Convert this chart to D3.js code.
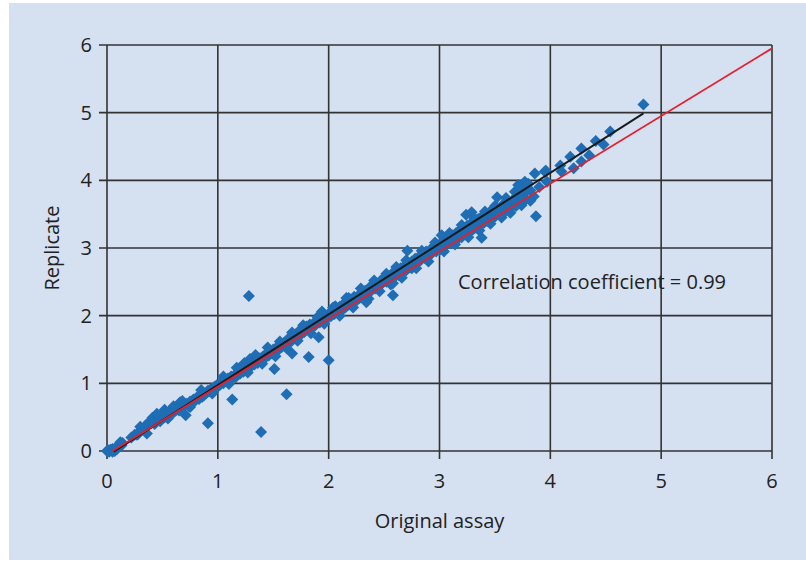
<!DOCTYPE html>
<html>
<head>
<meta charset="utf-8">
<script src="https://cdn.jsdelivr.net/npm/d3@7"></script>
<style>
  body { margin: 0; background: #ffffff; }
  svg { display: block; font-family: "Open Sans", "Noto Sans", sans-serif; }
  .tick-label { font-size: 20px; fill: #222; }
  .axis-title { font-size: 20px; fill: #222; }
</style>
</head>
<body>
<div id="chart-container"></div>
<script>
const CHART_CONTAINER_ID = "chart-container";

// tick values on both axes
const xTicks = [0, 1, 2, 3, 4, 5, 6];
const yTicks = [0, 1, 2, 3, 4, 5, 6];

// [original assay, replicate]
const bandPoints = [
  [0, 0], [0.01, 0.01], [0.02, 0], [0.03, 0.02], [0.04, 0.01], [0.05, 0.03], [0.06, 0.02],
  [0.08, 0.05], [0.1, 0.07], [0.12, 0.1], [0.13, 0.08], [0.14, 0.12], [0.02, -0.01],
  [0.05, -0.01], [0.07, 0], [0.09, 0.03], [0.12, 0.13],
  [0.22, 0.2], [0.25, 0.24], [0.27, 0.24], [0.28, 0.25], [0.3, 0.3], [0.33, 0.33],
  [0.35, 0.38], [0.36, 0.26], [0.38, 0.43], [0.4, 0.42], [0.41, 0.49], [0.43, 0.4],
  [0.45, 0.45], [0.46, 0.5], [0.48, 0.44], [0.5, 0.49], [0.5, 0.55],
  [0.52, 0.5], [0.52, 0.61], [0.54, 0.53], [0.55, 0.48], [0.57, 0.56], [0.58, 0.61],
  [0.6, 0.57], [0.62, 0.6], [0.63, 0.65], [0.65, 0.6], [0.66, 0.72], [0.68, 0.65],
  [0.7, 0.68], [0.71, 0.53], [0.72, 0.7], [0.74, 0.66], [0.75, 0.73], [0.77, 0.71],
  [0.78, 0.76], [0.8, 0.75], [0.81, 0.79], [0.83, 0.77], [0.84, 0.82], [0.86, 0.8],
  [0.87, 0.85], [0.88, 0.83], [0.9, 0.86], [0.91, 0.89], [0.93, 0.88], [0.94, 0.92],
  [0.95, 0.9], [0.97, 0.95], [0.98, 0.93], [0.99, 0.97], [1.0, 0.95],
  [1.02, 0.98], [1.03, 1.02], [1.05, 1.0], [1.06, 1.04], [1.08, 1.03], [1.09, 1.07],
  [1.1, 1.05], [1.12, 1.1], [1.13, 1.08], [1.15, 1.12], [1.16, 1.09], [1.18, 1.16],
  [1.19, 1.22], [1.2, 1.14], [1.22, 1.2], [1.23, 1.17], [1.25, 1.23], [1.26, 1.2],
  [1.28, 1.29], [1.29, 1.36], [1.3, 1.25], [1.32, 1.3], [1.33, 1.28], [1.35, 1.34],
  [1.36, 1.3], [1.38, 1.37], [1.4, 1.34], [1.41, 1.4], [1.43, 1.38], [1.44, 1.44],
  [1.46, 1.41], [1.47, 1.47], [1.49, 1.44], [1.5, 1.5], [1.52, 1.47], [1.53, 1.53],
  [1.55, 1.5], [1.57, 1.57], [1.58, 1.54], [1.6, 1.6], [1.61, 1.56], [1.63, 1.65],
  [1.65, 1.6], [1.66, 1.67], [1.68, 1.65], [1.7, 1.72], [1.71, 1.68], [1.73, 1.77],
  [1.75, 1.72], [1.76, 1.8], [1.78, 1.76], [1.8, 1.84], [1.82, 1.79], [1.83, 1.87],
  [1.85, 1.83], [1.87, 1.9], [1.88, 1.86], [1.9, 1.93], [1.92, 1.9], [1.93, 1.97],
  [1.94, 2.06], [1.95, 1.93], [1.97, 2.0], [1.98, 1.96], [2.0, 2.03],
  [2.02, 1.99], [2.03, 2.06], [2.05, 2.02], [2.06, 2.14], [2.07, 2.1], [2.08, 2.06],
  [2.1, 2.13], [2.12, 2.08], [2.13, 2.17], [2.15, 2.12], [2.17, 2.2], [2.18, 2.26],
  [2.18, 2.16], [2.2, 2.24], [2.22, 2.19], [2.23, 2.28], [2.25, 2.22], [2.27, 2.3],
  [2.28, 2.26], [2.3, 2.34], [2.32, 2.29], [2.33, 2.37], [2.34, 2.2], [2.35, 2.33],
  [2.37, 2.42], [2.38, 2.36], [2.4, 2.45], [2.42, 2.4], [2.43, 2.48], [2.45, 2.43],
  [2.47, 2.52], [2.48, 2.47], [2.5, 2.55], [2.52, 2.5], [2.53, 2.58], [2.55, 2.52],
  [2.57, 2.62], [2.6, 2.58], [2.62, 2.66], [2.63, 2.6], [2.65, 2.7], [2.67, 2.64],
  [2.68, 2.73], [2.7, 2.67], [2.72, 2.77], [2.73, 2.71], [2.75, 2.8], [2.75, 2.7],
  [2.77, 2.74], [2.78, 2.84], [2.8, 2.79], [2.82, 2.88], [2.83, 2.82], [2.85, 2.91],
  [2.87, 2.85], [2.88, 2.95], [2.9, 2.88], [2.92, 2.98], [2.93, 2.92], [2.95, 3.01],
  [2.97, 2.95], [2.98, 3.04], [3.0, 2.97],
  [3.02, 3.08], [3.02, 3.19], [3.03, 3.0], [3.05, 3.12], [3.06, 3.04], [3.08, 3.15],
  [3.1, 3.07], [3.12, 3.19], [3.13, 3.1], [3.15, 3.22], [3.17, 3.14], [3.18, 3.26],
  [3.2, 3.16], [3.22, 3.29], [3.23, 3.2], [3.24, 3.49], [3.25, 3.33], [3.27, 3.24],
  [3.28, 3.36], [3.29, 3.53], [3.3, 3.27], [3.32, 3.4], [3.33, 3.3], [3.35, 3.43],
  [3.37, 3.35], [3.38, 3.46], [3.4, 3.37], [3.42, 3.5], [3.43, 3.4], [3.45, 3.53],
  [3.47, 3.44], [3.48, 3.56], [3.5, 3.46], [3.52, 3.6], [3.55, 3.5], [3.57, 3.64],
  [3.6, 3.55], [3.62, 3.68], [3.65, 3.6], [3.67, 3.72], [3.68, 3.83], [3.7, 3.78],
  [3.72, 3.88], [3.73, 3.68], [3.74, 3.63], [3.75, 3.92], [3.76, 3.8], [3.77, 3.98],
  [3.78, 3.72], [3.79, 3.88], [3.8, 3.95], [3.82, 3.85], [3.85, 3.76], [3.86, 4.1],
  [3.9, 3.9], [3.95, 4.13], [3.96, 4.14], [3.97, 3.98],
  [4.09, 4.22], [4.1, 4.13], [4.18, 4.35], [4.21, 4.18], [4.28, 4.28], [4.28, 4.47],
  [4.35, 4.37], [4.41, 4.58], [4.48, 4.53], [4.54, 4.72], [4.84, 5.12]
];

// points on the upper and lower fringe of the band
const bandEdgePoints = [
  [0.3, 0.36], [0.45, 0.55], [0.6, 0.66], [0.68, 0.74], [0.75, 0.65], [0.85, 0.9],
  [0.95, 0.85], [1.05, 1.1], [1.1, 0.99], [1.17, 1.23], [1.24, 1.3], [1.27, 1.16],
  [1.34, 1.42], [1.4, 1.29], [1.45, 1.53], [1.52, 1.4], [1.56, 1.62], [1.62, 1.52],
  [1.67, 1.75], [1.72, 1.63], [1.77, 1.86], [1.84, 1.74], [1.9, 1.98], [1.96, 1.88],
  [2.04, 2.12], [2.1, 2.0], [2.16, 2.26], [2.22, 2.12], [2.29, 2.4], [2.36, 2.25],
  [2.41, 2.52], [2.46, 2.36], [2.52, 2.62], [2.56, 2.46], [2.61, 2.72], [2.66, 2.56],
  [2.7, 2.82], [2.79, 2.7], [2.84, 2.96], [2.9, 2.8], [2.96, 3.08], [3.04, 2.95],
  [3.09, 3.22], [3.14, 3.05], [3.2, 3.34], [3.26, 3.16], [3.31, 3.45], [3.36, 3.26],
  [3.41, 3.54], [3.46, 3.36], [3.5, 3.62], [3.56, 3.45], [3.6, 3.74], [3.64, 3.52],
  [3.69, 3.62], [3.71, 3.93], [3.74, 3.85], [3.82, 3.7]
];

// scattered points away from the main band
const outlierPoints = [
  [0.91, 0.41], [1.13, 0.76], [1.39, 0.28], [1.28, 2.29], [1.51, 1.21],
  [1.62, 0.84], [1.67, 1.44], [1.82, 1.39], [1.91, 1.68], [2.0, 1.34],
  [2.58, 2.3], [2.58, 2.48], [2.71, 2.96], [3.38, 3.15], [3.52, 3.75],
  [3.87, 3.47]
];

// regression line and reference line end points
const fitLine = [[0.06, -0.01], [4.84, 4.99]];
const identityLine = [[0.05, 0], [6, 5.95]];

const correlationText = "Correlation coefficient = 0.99";

function drawChart() {
    const size = { width: 806, height: 562 };
    const panel = { x: 9, y: 3, width: 797, height: 557 };
    const plot = { left: 107, right: 772, top: 45, bottom: 451 };

    const svg = d3.select("#" + CHART_CONTAINER_ID)
        .append("svg")
        .attr("width", size.width)
        .attr("height", size.height);

    svg.append("rect")
        .attr("x", panel.x)
        .attr("y", panel.y)
        .attr("width", panel.width)
        .attr("height", panel.height)
        .attr("fill", "#d5e0f1");

    const x = d3.scaleLinear().domain([0, 6]).range([plot.left, plot.right]);
    const y = d3.scaleLinear().domain([0, 6]).range([plot.bottom, plot.top]);

    drawGrid(svg, x, y, plot);
    drawPoints(svg, x, y, bandPoints.concat(bandEdgePoints, outlierPoints));
    drawLine(svg, x, y, fitLine, "#1a1a1a", 2);
    drawLine(svg, x, y, identityLine, "#e5202e", 1.8);
    drawLabels(svg, x, y, plot);
}

function drawGrid(svg, x, y, plot) {
    const grid = svg.append("g").attr("stroke", "#333").attr("stroke-width", 1.6);

    grid.selectAll(".hgrid")
        .data(yTicks)
        .enter()
        .append("line")
        .attr("x1", plot.left - 8)
        .attr("x2", plot.right)
        .attr("y1", d => y(d))
        .attr("y2", d => y(d));

    grid.selectAll(".vgrid")
        .data(xTicks)
        .enter()
        .append("line")
        .attr("x1", d => x(d))
        .attr("x2", d => x(d))
        .attr("y1", plot.top)
        .attr("y2", plot.bottom + 8);
}

function drawPoints(svg, x, y, points) {
    const diamond = d3.symbol().type(d3.symbolSquare).size(72);
    svg.append("g")
        .selectAll("path")
        .data(points)
        .enter()
        .append("path")
        .attr("d", diamond)
        .attr("transform", d => `translate(${x(d[0])},${y(d[1])}) rotate(45)`)
        .attr("fill", "#1f6db4");
}

function drawLine(svg, x, y, ends, color, width) {
    const line = d3.line().x(d => x(d[0])).y(d => y(d[1]));
    svg.append("path")
        .datum(ends)
        .attr("d", line)
        .attr("fill", "none")
        .attr("stroke", color)
        .attr("stroke-width", width);
}

function drawLabels(svg, x, y, plot) {
    svg.selectAll(".ytick")
        .data(yTicks)
        .enter()
        .append("text")
        .attr("class", "tick-label")
        .attr("x", plot.left - 15)
        .attr("y", d => y(d) + 7)
        .attr("text-anchor", "end")
        .text(d => d);

    svg.selectAll(".xtick")
        .data(xTicks)
        .enter()
        .append("text")
        .attr("class", "tick-label")
        .attr("x", d => x(d))
        .attr("y", plot.bottom + 37)
        .attr("text-anchor", "middle")
        .text(d => d);

    svg.append("text")
        .attr("class", "axis-title")
        .attr("x", (plot.left + plot.right) / 2)
        .attr("y", 528)
        .attr("text-anchor", "middle")
        .text("Original assay");

    svg.append("text")
        .attr("class", "axis-title")
        .attr("transform", `translate(59, ${(plot.top + plot.bottom) / 2}) rotate(-90)`)
        .attr("text-anchor", "middle")
        .text("Replicate");

    svg.append("text")
        .attr("class", "axis-title")
        .attr("x", 458)
        .attr("y", 289)
        .text(correlationText);
}

drawChart();
</script>
</body>
</html>
